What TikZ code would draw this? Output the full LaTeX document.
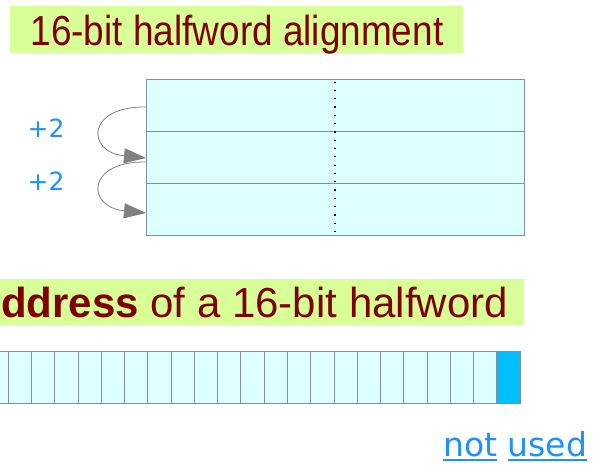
\documentclass[tikz,border=0pt]{standalone}
\usepackage{fontspec}
\setmainfont{Liberation Sans}
\newfontfamily\djv{DejaVu Sans}
\usetikzlibrary{arrows.meta}
\definecolor{titlebg}{RGB}{217,255,153}
\definecolor{titlefg}{RGB}{128,0,0}
\definecolor{cellbg}{RGB}{221,255,255}
\definecolor{cellline}{RGB}{128,144,160}
\definecolor{usedblue}{RGB}{0,191,255}
\definecolor{linkblue}{RGB}{30,144,255}
\definecolor{arrgray}{RGB}{128,128,128}
\newcommand\myul[1]{\setbox0\hbox{#1}\rlap{\rule[-5pt]{\wd0}{1.8pt}}\box0\relax}
\tikzset{
  titlebox/.style={fill=titlebg, draw=none},
  titletext/.style={text=titlefg, inner sep=0pt, font=\fontsize{42}{50}\selectfont},
  rowbox/.style={fill=cellbg, draw=cellline, line width=1pt, inner sep=0pt},
  bitcell/.style={fill=cellbg, draw=cellline, line width=0.8pt, inner sep=0pt, minimum width=23.26pt, minimum height=52pt},
  usedcell/.style={bitcell, fill=usedblue},
  steplabel/.style={text=linkblue, inner sep=0pt, font=\djv\fontsize{25}{30}\selectfont},
  linklabel/.style={text=linkblue, inner sep=0pt, font=\djv\fontsize{33}{40}\selectfont},
  jumparrow/.style={draw=arrgray, line width=0.8pt, -{Triangle[length=22pt,width=15pt]}, fill=none},
}
\begin{document}
\begin{tikzpicture}[x=1pt,y=-1pt]
\useasboundingbox (0,0) rectangle (598,464);
\clip (0,0) rectangle (598,464);
% title 1
\node[titlebox, minimum width=453pt, minimum height=47pt, inner sep=0pt] (t1box) at (236.5,29.5) {};
\node[titletext, anchor=base] (t1) at (237,45) {\scalebox{0.88}[1]{16-bit halfword alignment}};
% table rows
\node[rowbox, minimum width=378pt, minimum height=52pt] (row1) at (335,105) {};
\node[rowbox, minimum width=378pt, minimum height=52pt] (row2) at (335,157) {};
\node[rowbox, minimum width=378pt, minimum height=52pt] (row3) at (335,209) {};
\draw[black, line width=1.2pt, dash pattern=on 1.2pt off 7.1pt] (row1.north) ++(0,3) coordinate (dtop) -- (row3.south) coordinate (dbot);
% arrows
\coordinate (a1s) at (146,107);
\coordinate (a1e) at (146,158);
\coordinate (a2s) at (146,162);
\coordinate (a2e) at (146,213);
\node[steplabel, anchor=base] (p1) at (46,137) {+2};
\node[steplabel, anchor=base] (p2) at (46,190) {+2};
\draw[jumparrow] (a1s) .. controls (86,106) and (86,152) .. (a1e);
\draw[jumparrow] (a2s) .. controls (86,161) and (86,207) .. (a2e);
% title 2
\node[titlebox, minimum width=544pt, minimum height=46pt, inner sep=0pt] (t2box) at (252,302) {};
\node[titletext, anchor=base east] (t2) at (508,317) {\textbf{Address} of a 16-bit halfword};
% bit cells
\foreach \i in {0,...,22} {
  \ifnum\i=0
    \node[usedcell] (cell\i) at ({520-23.26*(\i+0.5)},377) {};
  \else
    \node[bitcell] (cell\i) at ({520-23.26*(\i+0.5)},377) {};
  \fi
}
% not used
\node[linklabel, anchor=base west] (nu) at (443,456) {\myul{not} \myul{used}};
\end{tikzpicture}
\end{document}
